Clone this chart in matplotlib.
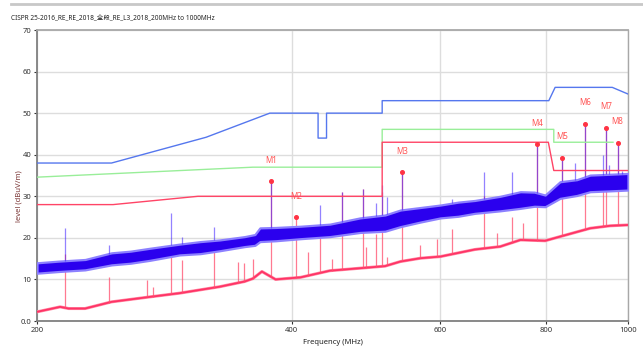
import matplotlib
import numpy as np

matplotlib.use("Agg")
import matplotlib.pyplot as plt
from matplotlib.lines import Line2D
from matplotlib.ticker import FixedLocator, NullLocator


TITLE = "CISPR 25-2016_RE_RE_2018_全段_RE_L3_2018_200MHz to 1000MHz"

# limit lines (MHz, dBuV/m)
peak_lim_f = [200, 245, 317, 377, 430, 430, 440, 440, 512, 512, 806, 820, 958, 1000]
peak_lim_v = [38, 38, 44.2, 50, 50, 44, 44, 50, 50, 53, 53, 56.2, 56.2, 54.6]
qp_lim_f = [200, 360, 512, 512, 817, 817, 960]
qp_lim_v = [34.6, 37.0, 37.0, 46.1, 46.1, 43.0, 43.0]
avg_lim_f = [200, 246, 310, 512, 512, 805, 817, 1000]
avg_lim_v = [28, 28, 30, 30, 43, 43, 36.2, 36.2]

# peak trace: envelope of the noise band
pk_f = [200, 212, 228, 245, 258, 272, 295, 312, 329, 352, 362, 367, 383, 410, 444,
        482, 516, 538, 568, 600, 630, 659, 706, 746, 775, 798, 831, 870, 902, 952, 1000]
pk_lo = [11.5, 11.9, 12.3, 13.5, 13.9, 14.6, 15.9, 16.2, 16.9, 17.9, 18.2, 19.1,
         19.3, 19.8, 20.3, 21.3, 21.6, 22.7, 23.8, 24.8, 25.2, 25.9, 26.5, 27.1,
         27.6, 27.5, 29.5, 30.2, 31.1, 31.3, 31.5]
pk_hi = [14.0, 14.4, 14.8, 16.4, 16.8, 17.5, 18.5, 19.1, 19.5, 20.3, 20.8, 22.4,
         22.5, 22.8, 23.3, 24.8, 25.5, 26.7, 27.3, 27.9, 28.6, 29.0, 30.0, 31.1,
         31.0, 30.3, 33.5, 34.0, 35.1, 35.3, 35.5]

# average trace
av_f = [200, 213, 218, 228, 245, 272, 295, 329, 352, 360, 369, 383, 410, 444, 482,
        516, 538, 568, 600, 659, 706, 746, 798, 831, 902, 952, 1000]
av_v = [2.2, 3.4, 3.0, 3.0, 4.6, 5.8, 6.7, 8.25, 9.5, 10.2, 11.9, 10.0, 10.5, 12.1,
        12.7, 13.2, 14.3, 15.1, 15.5, 17.2, 17.9, 19.5, 19.3, 20.3, 22.3, 22.9, 23.1]

# narrowband spikes
pk_spike_f = [216, 243, 288, 297, 324, 378, 432, 459, 486, 504, 512, 519, 540,
              620, 675, 729, 781, 836, 866, 890, 935, 942, 950, 972, 983]
pk_spike_v = [22.3, 18.3, 25.9, 20.3, 22.7, 33.7, 27.9, 31.1, 31.7, 28.3, 32.7, 29.9,
              35.8, 29.4, 35.9, 35.9, 42.6, 39.3, 37.9, 47.5, 39.9, 46.5, 37.5, 42.9, 36.0]
av_spike_f = [216, 243, 270, 274, 288, 297, 324, 346, 351, 360, 378, 405, 418, 432,
              446, 459, 486, 490, 504, 512, 519, 540, 567, 594, 620, 675, 700, 729,
              752, 781, 836, 890, 935, 942, 972]
av_spike_v = [16.0, 10.5, 9.9, 8.2, 17.0, 14.7, 16.7, 14.3, 14.0, 14.8, 33.7, 24.9,
              16.7, 22.7, 14.8, 31.1, 31.7, 17.7, 21.0, 31.0, 15.5, 35.8, 18.3, 19.7,
              22.1, 30.0, 21.1, 25.0, 23.5, 42.6, 39.3, 47.5, 33.0, 46.5, 42.9]

# markers
mk_names = ["M1", "M2", "M3", "M4", "M5", "M6", "M7", "M8"]
mk_f = [378, 405, 540, 781, 836, 890, 942, 972]
mk_v = [33.7, 24.9, 35.8, 42.6, 39.3, 47.5, 46.5, 42.9]

x_ticks = [200, 400, 600, 800, 1000]
y_ticks = [0, 10, 20, 30, 40, 50, 60, 70]
y_tick_labels = ["0.0", "10", "20", "30", "40", "50", "60", "70"]


def main():
    plt.rcParams["font.family"] = ["Noto Sans", "Noto Sans CJK SC", "DejaVu Sans"]

    fig = plt.figure(figsize=(6.43, 3.58), dpi=100)
    ax = fig.add_axes([37 / 643, 1 - 321 / 358, 591 / 643, 291 / 358])

    ax.set_xscale("log")
    ax.set_xlim(200, 1000)
    ax.set_ylim(0, 70)

    # average trace and its spikes
    ax.plot(av_f, av_v, color="#ff8aa3", linewidth=2.2, zorder=3)
    ax.plot(av_f, av_v, color="#ff3366", linewidth=1.3, zorder=3)
    base_av = np.interp(np.log(av_spike_f), np.log(av_f), av_v)
    ax.vlines(av_spike_f, base_av, av_spike_v, color="#ff4d6d", linewidth=0.9, alpha=0.75, zorder=3)

    # peak trace and its spikes
    ax.fill_between(pk_f, pk_lo, pk_hi, color="#2b00ee", linewidth=1.6,
                    edgecolor="#8c80ff", zorder=4)
    base_pk = np.interp(np.log(pk_spike_f), np.log(pk_f), pk_hi)
    ax.vlines(pk_spike_f, base_pk, pk_spike_v, color="#3a1cff", linewidth=0.9, alpha=0.55, zorder=4)

    # limits
    ax.plot(peak_lim_f, peak_lim_v, color="#5577ee", linewidth=1.0, zorder=5)
    ax.plot(qp_lim_f, qp_lim_v, color="#99ee99", linewidth=1.0, zorder=5)
    ax.plot(avg_lim_f, avg_lim_v, color="#ff4466", linewidth=1.0, zorder=5)

    # markers
    ax.plot(mk_f, mk_v, linestyle="none", marker="o", markersize=2.6,
            color="#ff3344", zorder=6)
    for name, f, v in zip(mk_names, mk_f, mk_v):
        ax.text(f, v + 5, name, color="#ff5555", fontsize=5.8, ha="center", va="center", zorder=6)

    ax.xaxis.set_major_locator(FixedLocator(x_ticks))
    ax.xaxis.set_minor_locator(NullLocator())
    ax.set_xticklabels([str(t) for t in x_ticks])
    ax.set_yticks(y_ticks)
    ax.set_yticklabels(y_tick_labels)
    ax.tick_params(axis="both", labelsize=5.5, colors="#333333", length=2.5, width=0.8, pad=1.5)

    ax.grid(True, color="#dddddd", linewidth=1.0)
    ax.set_axisbelow(True)

    for side in ["left", "bottom"]:
        ax.spines[side].set_color("#808080")
        ax.spines[side].set_linewidth(1.3)
    ax.spines["top"].set_color("#a8a8a8")
    ax.spines["top"].set_linewidth(1.3)
    ax.spines["right"].set_color("#a8a8a8")
    ax.spines["right"].set_linewidth(1.0)

    ax.set_xlabel("Frequency (MHz)", fontsize=5.5, color="#222222", labelpad=4)
    ax.set_ylabel("level (dBuV/m)", fontsize=5.5, color="#7a3535", labelpad=6)
    ax.yaxis.set_label_coords(-0.025, 0.43)

    fig.text(11 / 643, 1 - 19 / 358, TITLE, fontsize=4.7, color="#222222", ha="left", va="center")
    fig.add_artist(Line2D([11 / 643, 1.0], [1 - 4 / 358, 1 - 4 / 358], color="#c8c8c8", linewidth=2.0))

    fig.savefig("out.png", dpi=100)
    plt.close(fig)


if __name__ == "__main__":
    main()
